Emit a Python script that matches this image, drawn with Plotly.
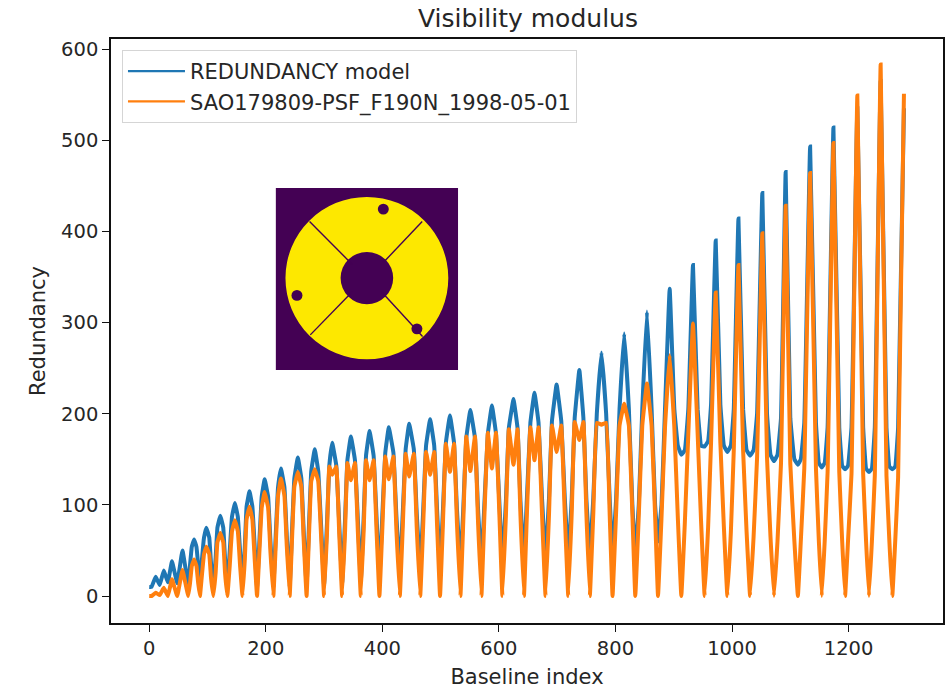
import plotly.graph_objects as go

baseline_index = [
    0, 4, 11, 18, 25, 32, 39, 48, 57,
    67, 70, 73, 77, 81, 84,
    87, 90, 94, 98, 103, 106,
    110, 114, 117, 122, 127, 130,
    134, 138, 142, 147, 152, 156,
    160, 164, 167, 172, 177, 181,
    185, 189, 193, 198, 204, 208,
    213, 217, 221, 226, 232, 236,
    241, 245, 249, 255, 261, 265,
    270, 274, 278, 284, 290, 295,
    300, 305, 309, 314, 321, 326,
    331, 336, 340, 346, 353, 358,
    363, 368, 372, 378, 385, 390,
    395, 400, 405, 411, 419, 424,
    430, 435, 440, 446, 454, 459,
    465, 470, 475, 482, 489, 494,
    499, 504, 509, 516, 523, 528,
    534, 539, 544, 551, 559, 564,
    570, 575, 581, 588, 595, 601,
    606, 612, 617, 625, 632, 637,
    643, 648, 654, 661, 668, 674,
    680, 686, 691, 699, 707, 713,
    719, 725, 730, 738, 745, 750,
    756, 762, 768, 776, 784, 790,
    795, 801, 807, 815, 823, 829,
    834, 840, 846, 854, 862, 868,
    873, 879, 885, 893, 901, 907,
    913, 919, 925, 933, 941, 947,
    953, 959, 964, 972, 980, 986,
    992, 998, 1003, 1011, 1019, 1025,
    1031, 1037, 1043, 1052, 1060, 1066,
    1072, 1078, 1084, 1092, 1100, 1107,
    1113, 1118, 1124, 1134, 1144, 1149,
    1154, 1159, 1164, 1174, 1184, 1189,
    1194, 1199, 1205, 1215, 1225, 1230,
    1235, 1240, 1245, 1255, 1265, 1270,
    1275, 1280, 1285, 1295,
]

redundancy_model = [
    10, 10, 21, 12, 28, 15, 38, 14, 50,
    12, 34, 54, 62, 54, 34,
    10, 36, 64, 75, 64, 36,
    10, 42, 75, 88, 75, 42,
    10, 48, 87, 102, 87, 48,
    10, 54, 98, 115, 98, 54,
    10, 60, 109, 128, 109, 60,
    10, 66, 119, 140, 119, 66,
    10, 72, 129, 152, 129, 72,
    10, 76, 137, 161, 137, 76,
    12, 80, 143, 168, 143, 80,
    14, 84, 149, 175, 149, 84,
    16, 87, 154, 181, 154, 87,
    20, 89, 157, 185, 157, 89,
    26, 91, 161, 189, 161, 91,
    28, 93, 165, 194, 165, 93,
    30, 95, 168, 198, 168, 95,
    32, 98, 173, 204, 173, 98,
    34, 100, 178, 209, 178, 100,
    36, 104, 184, 216, 184, 104,
    38, 107, 190, 223, 190, 107,
    40, 108, 192, 232, 192, 108,
    42, 108, 195, 248, 195, 108,
    45, 108, 200, 267, 200, 108,
    45, 105, 205, 288, 205, 100,
    45, 100, 205, 312, 205, 100,
    60, 100, 205, 337, 205, 165,
    155, 160, 205, 363, 205, 165,
    164, 170, 210, 390, 210, 165,
    158, 165, 205, 414, 205, 160,
    154, 160, 200, 442, 200, 155,
    148, 155, 195, 465, 195, 150,
    144, 150, 190, 493, 190, 146,
    141, 146, 185, 514, 185, 143,
    139, 143, 185, 535, 185, 140,
    136, 140, 185, 565, 185, 142,
    139, 142, 185, 535,
]

sao179809_psf = [
    0, 0, 3.6, 1, 9, 0, 18.5, 0, 28.5,
    0, 14, 33, 40, 33, 14,
    0, 20, 46, 54, 46, 20,
    0, 26, 59, 69, 59, 26,
    0, 32, 71, 83, 71, 32,
    0, 40, 84, 98, 84, 40,
    0, 48, 97, 114, 97, 48,
    0, 55, 110, 129, 110, 55,
    0, 62, 120, 136, 120, 62,
    0, 64, 126, 139, 126, 64,
    0, 68, 142, 133, 142, 68,
    0, 70, 146, 127, 146, 70,
    0, 72, 149, 127, 149, 72,
    0, 74, 153, 128, 153, 74,
    0, 75, 156, 131, 156, 75,
    0, 76, 158, 133, 158, 76,
    0, 80, 167, 136, 167, 80,
    0, 84, 175, 137, 175, 84,
    0, 86, 179, 140, 179, 86,
    0, 88, 183, 144, 183, 88,
    0, 89, 185, 149, 185, 89,
    0, 90, 187, 158, 187, 90,
    0, 92, 191, 171, 191, 92,
    0, 91, 190, 188, 190, 91,
    0, 90, 187, 211, 187, 90,
    0, 88, 187, 233, 187, 88,
    0, 86, 185, 264, 185, 86,
    0, 80, 178, 299, 178, 80,
    0, 76, 168, 333, 168, 76,
    0, 70, 160, 363, 160, 70,
    0, 65, 152, 398, 152, 65,
    0, 60, 145, 428, 145, 60,
    0, 60, 140, 464, 140, 60,
    0, 60, 136, 497, 136, 60,
    0, 60, 134, 549, 134, 60,
    0, 60, 132, 583, 132, 60,
    0, 60, 130, 551,
]

x_ticks = [0, 200, 400, 600, 800, 1000, 1200]
y_ticks = [0, 100, 200, 300, 400, 500, 600]

# Inset pupil mask, read in mask units (0-100 across the image)
mask_disc = (50, 49.5, 44.6)
mask_obstruction = (50, 49.5, 14.4)
mask_holes = [(59, 11.6, 3), (11.7, 59, 3), (77.4, 77.4, 3)]
mask_spiders = [
    (42, 42, 18.6, 18.4),
    (58, 42, 80.3, 18.4),
    (42, 57, 19, 80.7),
    (58, 57, 80.5, 81.6),
]

W, H = 948, 691
L, R, T, B = 111, 945, 39, 623
BLUE, ORANGE = "#1f77b4", "#ff7f0e"
PURPLE, YELLOW = "#440154", "#fde800"
INK = "#262626"
FONT = "DejaVu Sans"
NAMES = ["REDUNDANCY model", "SAO179809-PSF_F190N_1998-05-01"]

fig = go.Figure()
fig.add_trace(go.Scatter(x=baseline_index, y=redundancy_model, mode="lines", name=NAMES[0],
                         showlegend=False,
                         line=dict(color=BLUE, width=4, shape="spline", smoothing=0.25)))
fig.add_trace(go.Scatter(x=baseline_index, y=sao179809_psf, mode="lines", name=NAMES[1],
                         showlegend=False,
                         line=dict(color=ORANGE, width=4, shape="spline", smoothing=0.25)))
# Legend keys are drawn thinner than the curves
for name, color in zip(NAMES, (BLUE, ORANGE)):
    fig.add_trace(go.Scatter(x=[None], y=[None], mode="lines", name=name,
                             line=dict(color=color, width=2.2)))
fig.add_trace(go.Scatter(x=[0, 100], y=[0, 100], xaxis="x2", yaxis="y2", mode="markers",
                         marker=dict(opacity=0), showlegend=False, hoverinfo="skip"))


def circle(spec, color):
    cx, cy, r = spec
    return dict(type="circle", xref="x2", yref="y2", x0=cx - r, x1=cx + r,
                y0=cy - r, y1=cy + r, fillcolor=color, line=dict(width=0))


shapes = [dict(type="rect", xref="x2", yref="y2", x0=0, x1=100, y0=0, y1=100,
               fillcolor=PURPLE, line=dict(width=0)),
          circle(mask_disc, YELLOW), circle(mask_obstruction, PURPLE)]
shapes += [circle(h, PURPLE) for h in mask_holes]
shapes += [dict(type="line", xref="x2", yref="y2", x0=a, y0=b, x1=c, y1=d,
                line=dict(color=PURPLE, width=1.4)) for a, b, c, d in mask_spiders]

axis = dict(showgrid=False, zeroline=False, showline=True, mirror=True,
            linecolor="#111111", linewidth=1.5, ticks="outside", ticklen=7,
            tickwidth=1.2, tickcolor="#111111",
            tickfont=dict(size=19.5, color=INK, family=FONT))

fig.update_layout(
    width=W, height=H,
    margin=dict(l=L, r=W - R, t=T, b=H - B, pad=0),
    paper_bgcolor="white", plot_bgcolor="white",
    font=dict(family=FONT, color=INK),
    title=dict(text="Visibility modulus", x=(L + R) / 2 / W, xanchor="center",
               y=1 - 18 / H, yanchor="middle", font=dict(size=25, color=INK, family=FONT)),
    xaxis=dict(axis, range=[-65.6, 1362], tickvals=x_ticks,
               title=dict(text="Baseline index", font=dict(size=21, color=INK), standoff=10)),
    yaxis=dict(axis, range=[-29.6, 611], tickvals=y_ticks,
               title=dict(text="Redundancy", font=dict(size=21, color=INK), standoff=10)),
    xaxis2=dict(domain=[(276 - L) / (R - L), (459 - L) / (R - L)], range=[0, 100],
                visible=False, anchor="y2"),
    yaxis2=dict(domain=[(B - 370) / (B - T), (B - 188) / (B - T)], range=[100, 0],
                visible=False, anchor="x2"),
    legend=dict(x=(122 - L) / (R - L), y=(B - 50) / (B - T), xanchor="left", yanchor="top",
                bgcolor="rgba(255,255,255,0.8)", bordercolor="#d5d5d5", borderwidth=1,
                font=dict(size=21, color=INK, family=FONT), itemwidth=57),
    shapes=shapes,
)

fig.write_html("out.html", config={"displayModeBar": False},
               post_script="document.body.style.margin='0';")
